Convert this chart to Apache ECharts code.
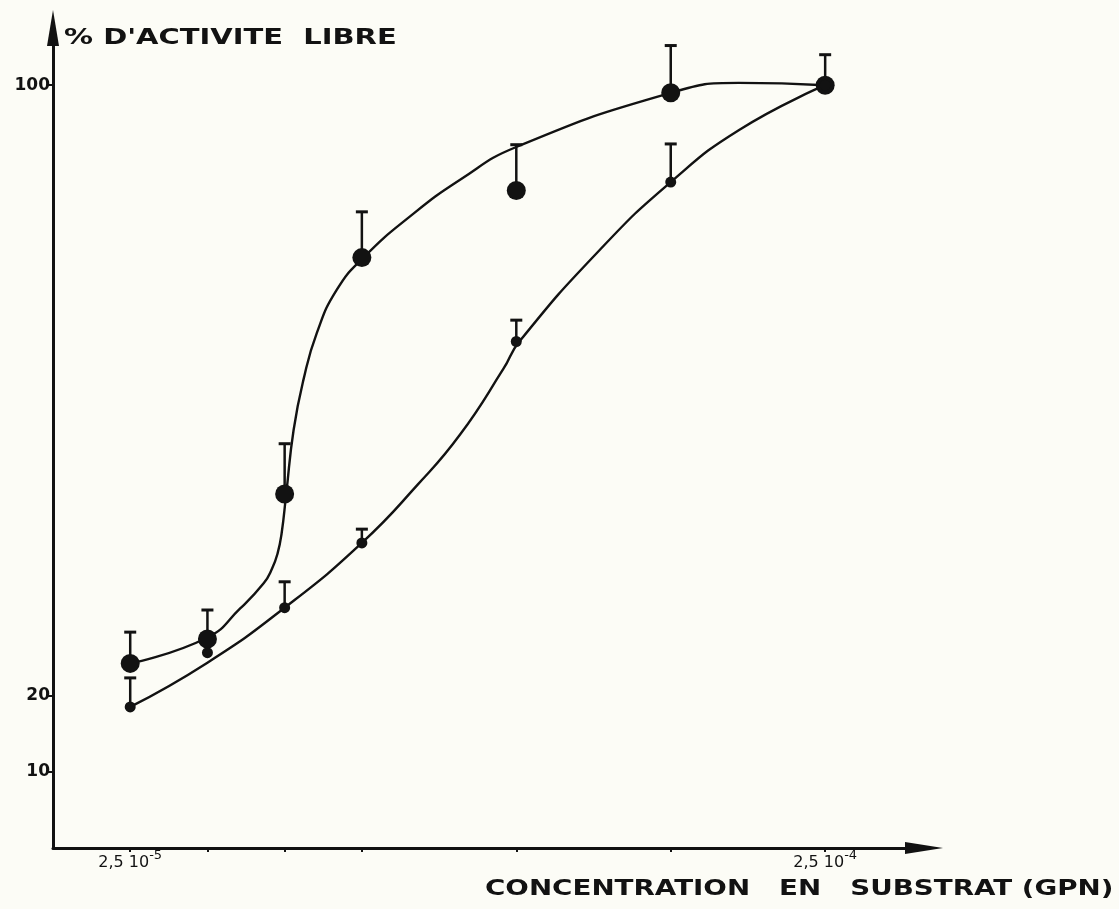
<!DOCTYPE html>
<html>
<head>
<meta charset="utf-8">
<script src="https://cdn.jsdelivr.net/npm/echarts@6/dist/echarts.min.js"></script>
<style>
  html, body { margin: 0; padding: 0; background: #fcfcf6; }
  #chart { width: 1119px; height: 909px; }
</style>
</head>
<body>
<div id="chart"></div>
<script>
// concentration in units of 1e-5 M
const xConc = [2.5, 5, 7.5, 10, 15, 20, 25];

// large dots and the top of their error bars (% free activity)
const bigDots = [24.2, 27.4, 46.4, 77.4, 86.2, 99.0, 100.0];
const bigErrTop = [28.3, 31.2, 53.0, 83.4, 92.2, 105.2, 104.0];

// small dots and the top of their error bars
const smallDots = [18.5, 25.6, 31.5, 40.0, 66.4, 87.3, 100.0];
const smallErrTop = [22.3, null, 34.9, 41.8, 69.2, 92.3, null];

// hand drawn curves as [x, y]
const bigCurve = [
  [2.5, 24.2], [5, 27.6], [6.06, 31.4], [6.82, 34.7], [7.09, 36.6], [7.27, 38.6],
  [7.4, 41.2], [7.55, 46.4], [7.79, 54.8], [8.11, 61.4], [8.54, 67.5], [9.19, 73.2],
  [10.05, 77.4], [11.56, 82.8], [13.18, 87.6], [15, 91.9], [20, 99.0], [22.2, 100.3],
  [25, 100.0]
];
const smallCurve = [
  [2.5, 18.5], [5, 24.3], [7.5, 31.5], [10, 40.0], [11.8, 47.6], [13.18, 54.2],
  [14.58, 62.8], [15.1, 66.4], [17.7, 78.4], [20, 87.3], [22.24, 94.2], [25, 100.0]
];

// axis ticks / labels
const yTickValues = [10, 20, 100];
const xLabelValues = [2.5, 25];
const xLabelMantissa = ['2,5', '2,5'];
const xLabelExponent = ['-5', '-4'];

const ink = '#121212';
const font = 'DejaVu Sans';

function errData(dots, tops) {
  const out = [];
  xConc.forEach((x, i) => { if (tops[i] != null) out.push([x, dots[i], tops[i]]); });
  return out;
}

function renderErr(params, api) {
  const x = api.value(0);
  const p0 = api.coord([x, api.value(1)]);
  const p1 = api.coord([x, api.value(2)]);
  return {
    type: 'group',
    children: [
      { type: 'line', shape: { x1: p0[0], y1: p0[1], x2: p1[0], y2: p1[1] }, style: { stroke: ink, lineWidth: 2.5 } },
      { type: 'line', shape: { x1: p1[0] - 6, y1: p1[1], x2: p1[0] + 6, y2: p1[1] }, style: { stroke: ink, lineWidth: 3 } }
    ]
  };
}

const chart = echarts.init(document.getElementById('chart'));
chart.setOption({
  backgroundColor: '#fcfcf6',
  animation: false,
  grid: { left: 53, right: 195, top: 28, bottom: 61 },
  xAxis: {
    type: 'value', min: 0, max: 28.2,
    splitLine: { show: false },
    axisLine: { lineStyle: { color: ink, width: 3 }, symbol: ['none', 'triangle'], symbolSize: [12, 38] },
    axisTick: { customValues: xConc, length: 4, lineStyle: { color: ink, width: 2 } },
    axisLabel: {
      customValues: xLabelValues, margin: 1,
      formatter: v => {
        const i = xLabelValues.indexOf(v);
        return '{m|' + xLabelMantissa[i] + ' 10}{e|' + xLabelExponent[i] + '}';
      },
      rich: {
        m: { fontFamily: font, fontSize: 16, color: ink, lineHeight: 22, verticalAlign: 'bottom' },
        e: { fontFamily: font, fontSize: 13, color: ink, verticalAlign: 'top' }
      }
    }
  },
  yAxis: {
    type: 'value', min: 0, max: 107.5,
    splitLine: { show: false },
    axisLine: { lineStyle: { color: ink, width: 3 }, symbol: ['none', 'triangle'], symbolSize: [12, 36] },
    axisTick: { customValues: yTickValues, length: 6, lineStyle: { color: ink, width: 2 } },
    axisLabel: { customValues: yTickValues, margin: 3, fontFamily: font, fontWeight: 'bold', fontSize: 17, color: ink }
  },
  graphic: [
    {
      type: 'text', x: 64, y: 28, scaleX: 1.38, z: 10,
      style: { text: "% D'ACTIVITE  LIBRE", fontFamily: font, fontWeight: 'bold', fontSize: 21, fill: ink }
    },
    {
      type: 'text', x: 485, y: 879, scaleX: 1.32, z: 10,
      style: { text: 'CONCENTRATION   EN   SUBSTRAT (GPN)', fontFamily: font, fontWeight: 'bold', fontSize: 21, fill: ink }
    }
  ],
  series: [
    {
      type: 'line', data: bigCurve, smooth: 0.5, showSymbol: false,
      lineStyle: { color: ink, width: 2.4 }, z: 2
    },
    {
      type: 'line', data: smallCurve, smooth: 0.5, showSymbol: false,
      lineStyle: { color: ink, width: 2.4 }, z: 2
    },
    { type: 'custom', data: errData(bigDots, bigErrTop), renderItem: renderErr, z: 3 },
    { type: 'custom', data: errData(smallDots, smallErrTop), renderItem: renderErr, z: 3 },
    {
      type: 'scatter', data: xConc.map((x, i) => [x, bigDots[i]]),
      symbol: 'circle', symbolSize: 19, itemStyle: { color: ink, opacity: 1 }, z: 4
    },
    {
      type: 'scatter', data: xConc.map((x, i) => [x, smallDots[i]]),
      symbol: 'circle', symbolSize: 11, itemStyle: { color: ink, opacity: 1 }, z: 4
    }
  ]
});
</script>
</body>
</html>
